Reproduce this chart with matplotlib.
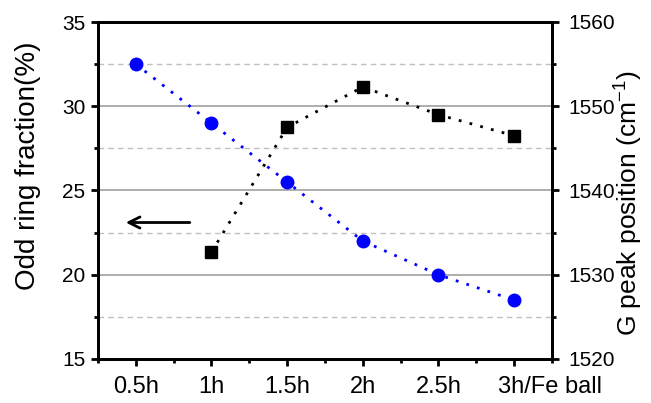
import matplotlib
matplotlib.use("Agg")
import matplotlib.pyplot as plt
from matplotlib.ticker import MultipleLocator
from matplotlib.transforms import ScaledTranslation

categories = ["0.5h", "1h", "1.5h", "2h", "2.5h", "3h/Fe ball"]
odd_ring = [32.5, 29.0, 25.5, 22.0, 20.0, 18.5]
g_cats = ["1h", "1.5h", "2h", "2.5h", "3h/Fe ball"]
g_peak = [1532.7, 1547.5, 1552.3, 1549.0, 1546.5]

plt.rcParams['font.family'] = ['Liberation Sans', 'DejaVu Sans']
plt.rcParams['mathtext.fontset'] = 'custom'
plt.rcParams['mathtext.rm'] = 'Liberation Sans'
plt.rcParams['mathtext.it'] = 'Liberation Sans:italic'

fig = plt.figure(figsize=(6.51, 4.03), dpi=100)
ax = fig.add_axes([98/651, 1-359/403, (552-98)/651, (359-22)/403])
ax2 = ax.twinx()

x = list(range(len(categories)))
gx = [categories.index(c) for c in g_cats]

ax.set_xlim(-0.5, 5.5)
ax.set_ylim(15, 35)
ax2.set_ylim(1520, 1560)

# grid
for v in [20, 25, 30]:
    ax.axhline(v, color='#a0a0a0', lw=1.2, zorder=0)
for v in [17.5, 22.5, 27.5, 32.5]:
    ax.axhline(v, color='#c0c0c0', lw=1.0, ls=(0, (4, 3)), zorder=0)

ax.plot(x, odd_ring, color='#0000ff', ls=(0, (1, 3)), lw=2, marker='o',
        markersize=9, zorder=3)
ax2.plot(gx, g_peak, color='black', ls=(0, (1, 3)), lw=2, marker='s',
         markersize=8, zorder=3)

ax.set_xticks(x)
ax.set_xticklabels(categories)
ax.xaxis.set_minor_locator(MultipleLocator(0.5))
ax.yaxis.set_major_locator(MultipleLocator(5))
ax.yaxis.set_minor_locator(MultipleLocator(2.5))
ax2.yaxis.set_major_locator(MultipleLocator(10))
ax2.yaxis.set_minor_locator(MultipleLocator(5))

for a in (ax, ax2):
    for s in a.spines.values():
        s.set_linewidth(2)
    a.tick_params(which='major', direction='out', length=5, width=2, labelsize=15)
    a.tick_params(which='minor', direction='out', length=3, width=2)
ax.tick_params(axis='x', which='major', labelsize=17, pad=7)
ax.tick_params(axis='y', which='major', pad=4)
ax2.tick_params(axis='y', which='major', pad=7)

# last label: "3h" centred on its tick, rest trailing to the right
last = ax.get_xticklabels()[-1]
last.set_horizontalalignment('left')
last.set_transform(last.get_transform() + ScaledTranslation(-16/100, 0, fig.dpi_scale_trans))

ax.set_ylabel("Odd ring fraction(%)", fontsize=20, va='center', ha='center')
ax.yaxis.set_label_coords(-0.155, 0.573)
ax2.set_ylabel("G peak position (cm$^{-1}$)", fontsize=19, va='center', ha='center')
ax2.yaxis.set_label_coords(1.17, 0.463)

ax.annotate("", xy=(-0.17, 23.1), xytext=(0.75, 23.1),
            arrowprops=dict(arrowstyle='->', lw=2, color='black', mutation_scale=20))

fig.savefig("out.png", dpi=100)
